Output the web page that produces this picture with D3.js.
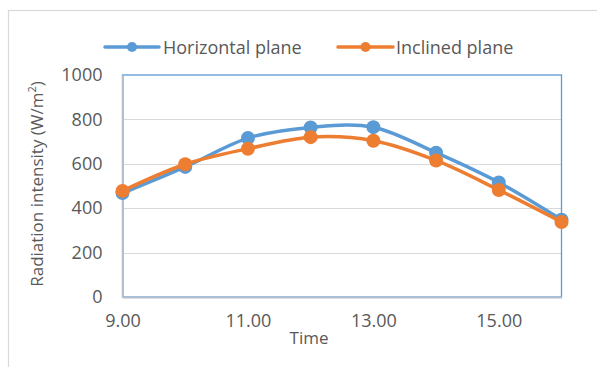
<!DOCTYPE html>
<html><head><meta charset="utf-8">
<script src="https://cdn.jsdelivr.net/npm/d3@7"></script>
<style>body{margin:0;background:#fff}svg{display:block}</style>
</head><body>
<svg id="c" width="597" height="367"></svg>
<script>
const categories = ["9.00","10.00","11.00","12.00","13.00","14.00","15.00","16.00"];
const tickLabels = ["9.00","11.00","13.00","15.00"];
const horizontal = [468, 586, 716, 764, 765, 650, 516, 348];
const inclined   = [478, 598, 668, 720, 704, 615, 482, 338];
const yTicks = [0, 200, 400, 600, 800, 1000];
const seriesNames = ["Horizontal plane", "Inclined plane"];
const colors = ["#5B9BD5", "#ED7D31"];

const svg = d3.select("#c");
const font = "'Open Sans', sans-serif";
const txt = "#595959";
const L = 122.5, R = 561.5, T = 75, B = 297;

svg.append("rect").attr("x",8.5).attr("y",10.5).attr("width",700).attr("height",500)
  .attr("fill","#fff").attr("stroke","#D9D9D9").attr("stroke-width",1.2);

const x = d3.scalePoint().domain(categories).range([L, R]);
const y = d3.scaleLinear().domain([0, 1000]).range([B, T]);

// gridlines
svg.append("g").selectAll("line").data(yTicks.slice(1,-1)).join("line")
  .attr("x1",L).attr("x2",R).attr("y1",d=>Math.round(y(d))+0.5).attr("y2",d=>Math.round(y(d))+0.5)
  .attr("stroke","#D9D9D9").attr("stroke-width",1.2);

// plot area border
svg.append("rect").attr("x",L).attr("y",T).attr("width",R-L).attr("height",B-T)
  .attr("fill","none").attr("stroke","#5B9BD5").attr("stroke-width",1.3);

// y axis
const yAxis = d3.axisLeft(y).tickValues(yTicks).tickFormat(d3.format("d")).tickSize(0).tickPadding(20);
const gy = svg.append("g").attr("transform",`translate(${L},0)`).call(yAxis);
gy.select(".domain").attr("stroke","#B4BFCC").attr("stroke-width",2);
gy.selectAll("text").attr("font-family",font).attr("font-size",18).attr("fill",txt);

// x axis
const xAxis = d3.axisBottom(x).tickValues(tickLabels).tickSize(0).tickPadding(17);
const gx = svg.append("g").attr("transform",`translate(0,${B})`).call(xAxis);
gx.select(".domain").attr("stroke","#B4BFCC").attr("stroke-width",2);
gx.selectAll("text").attr("font-family",font).attr("font-size",18).attr("fill",txt);

// axis titles
svg.append("text").attr("x",309).attr("y",344).attr("text-anchor","middle")
  .attr("font-family",font).attr("font-size",17).attr("fill",txt).text("Time");
const yt = svg.append("text").attr("transform","translate(43,184) rotate(-90)").attr("text-anchor","middle")
  .attr("font-family",font).attr("font-size",17).attr("fill",txt);
yt.append("tspan").text("Radiation intensity (W/m");
yt.append("tspan").attr("font-size",11).attr("dy",-7).text("2");
yt.append("tspan").attr("dy",7).text(")");

// series
const line = d3.line().x((d,i)=>x(categories[i])).y(d=>y(d)).curve(d3.curveCardinal.tension(0));
[horizontal, inclined].forEach((s,k)=>{
  svg.append("path").attr("d",line(s)).attr("fill","none").attr("stroke",colors[k])
    .attr("stroke-width",3.5).attr("stroke-linejoin","round").attr("stroke-linecap","round");
  svg.append("g").selectAll("circle").data(s).join("circle")
    .attr("cx",(d,i)=>x(categories[i])).attr("cy",d=>y(d)).attr("r",7).attr("fill",colors[k]);
});

// legend
const leg = [{x0:105, x1:159, tx:163}, {x0:338, x1:393, tx:396}];
leg.forEach((l,k)=>{
  const g = svg.append("g");
  g.append("line").attr("x1",l.x0).attr("x2",l.x1).attr("y1",47).attr("y2",47)
    .attr("stroke",colors[k]).attr("stroke-width",3.5).attr("stroke-linecap","round");
  g.append("circle").attr("cx",(l.x0+l.x1)/2).attr("cy",47).attr("r",5).attr("fill",colors[k]);
  g.append("text").attr("x",l.tx).attr("y",53.5).attr("font-family",font).attr("font-size",18)
    .attr("fill",txt).text(seriesNames[k]);
});
</script>
</body></html>
